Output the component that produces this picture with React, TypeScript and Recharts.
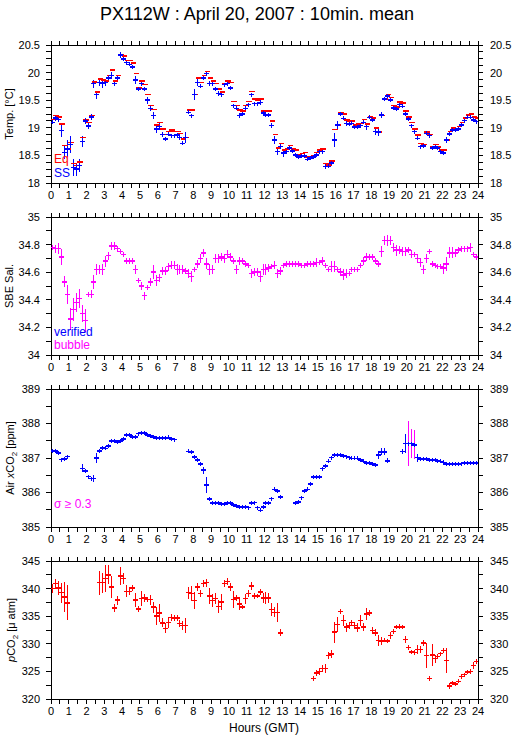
import React from "react";
import { ScatterChart, Scatter, XAxis, YAxis, ErrorBar } from "recharts";

// 10-minute means over one day
const SLOT_MINUTES = 10;
const HOURS = [0, 1, 2, 3, 4, 5, 6, 7, 8, 9, 10, 11, 12, 13, 14, 15, 16, 17, 18, 19, 20, 21, 22, 23, 24];

const TEMP_TICKS = [18, 18.5, 19, 19.5, 20, 20.5];
const SAL_TICKS = [34, 34.2, 34.4, 34.6, 34.8, 35];
const XCO2_TICKS = [385, 386, 387, 388, 389];
const PCO2_TICKS = [320, 325, 330, 335, 340, 345];

// Eq temperature (red)
const TEMP_EQ = [
  19.15, 19.22, 19.2, 19.07, 18.68, 18.62, 18.73, 18.35, 18.32, 18.38,
  18.82, 19.14, 19.1, 19.22, 19.83, 19.65, 19.88, 19.87, 19.85, 19.95,
  20.05, 19.85, 19.95, 20.32, 20.3, 20.22, 20.22, 20.17, 19.98, 19.72,
  19.85, 19.78, 19.6, 19.4, 19.33, 19.05, 19.1, 18.98, 18.88, 18.93,
  18.96, 18.93, 18.93, 18.9, 18.8, 18.82, 19.32, 19.32, 19.6, 19.9,
  19.82, 19.95, 20.02, 19.9, 19.85, 19.8, 19.7, 19.65, 19.8, 19.85,
  19.82, 19.48, 19.4, 19.32, 19.3, 19.4, 19.48, 19.66, 19.52, 19.5,
  19.52, 19.3, 19.3, 19.3, 19.12, 18.88, 18.63, 18.72, 18.6, 18.62,
  18.68, 18.62, 18.6, 18.52, 18.53, 18.55, 18.47, 18.48, 18.5, 18.55,
  18.6, 18.62, 18.35, 18.33, 18.4, 18.97, 19.05, 19.27, 19.25, 19.14,
  19.12, 19.12, 19.05, 19.07, 19.08, 19.15, 19.07, 19.2, 19.18, 19.0,
  18.92, 19.22, 19.52, 19.6, 19.55, 19.4, 19.38, 19.47, 19.45, 19.3,
  19.2, 19.1, 18.98, 18.87, 18.72, 18.7, 18.92, 18.88, 18.65, 18.7,
  18.65, 18.6, 18.6, 18.78, 18.93, 19.0, 18.98, 19.02, 19.1, 19.18,
  19.23, 19.25, 19.2, 19.18,
];

// SS temperature (blue)
const TEMP_SS = [
  19.1, 19.18, 19.15, 18.95, 18.55, 18.62, 18.7, 18.28, 18.25, 18.32,
  18.75, 19.12, 19.03, 19.2, 19.8, 19.6, 19.82, 19.8, 19.82, 19.9,
  19.95, 19.8, 19.9, 20.32, 20.25, 20.18, 20.15, 20.1, 19.87, 19.7,
  19.8, 19.7, 19.5, 19.35, 19.22, 18.98, 19.02, 18.88, 18.8, 18.88,
  18.86, 18.86, 18.87, 18.82, 18.72, 18.82, 19.28, 19.22, 19.6, 19.82,
  19.75, 19.9, 19.98, 19.8, 19.8, 19.7, 19.62, 19.6, 19.78, 19.8,
  19.72, 19.4, 19.35, 19.22, 19.25, 19.35, 19.42, 19.6, 19.44, 19.44,
  19.46, 19.27, 19.23, 19.23, 19.04, 18.78, 18.57, 18.66, 18.54, 18.57,
  18.63, 18.58, 18.51, 18.47, 18.49, 18.49, 18.43, 18.45, 18.47, 18.51,
  18.57, 18.57, 18.3, 18.3, 18.36, 18.78, 19.05, 19.25, 19.17, 19.08,
  19.07, 19.08, 19.01, 19.01, 19.04, 19.1, 19.02, 19.19, 19.14, 18.93,
  18.92, 19.23, 19.52, 19.58, 19.5, 19.36, 19.34, 19.42, 19.39, 19.25,
  19.16, 19.04, 18.93, 18.81, 18.66, 18.67, 18.9, 18.86, 18.63, 18.65,
  18.63, 18.57, 18.54, 18.78, 18.89, 18.96, 18.96, 18.98, 19.05, 19.13,
  19.19, 19.19, 19.14, 19.11,
];
const TEMP_SS_ERR = [
  0.04, 0.05, 0.05, 0.12, 0.12, 0.15, 0.15, 0.15, 0.12, 0.12,
  0.1, 0.06, 0.05, 0.05, 0.07, 0.07, 0.06, 0.08, 0.06, 0.06,
  0.06, 0.03, 0.04, 0.06, 0.04, 0.03, 0.03, 0.03, 0.07, 0.02,
  0.04, 0.03, 0.06, 0.04, 0.06, 0.08, 0.06, 0.04, 0.03, 0.03,
  0.03, 0.02, 0.02, 0.02, 0.03, 0.1, 0.03, 0.03, 0.1, 0.06,
  0.03, 0.03, 0.03, 0.04, 0.04, 0.03, 0.05, 0.05, 0.03, 0.03,
  0.03, 0.03, 0.02, 0.05, 0.03, 0.04, 0.02, 0.03, 0.02, 0.03,
  0.04, 0.04, 0.03, 0.03, 0.04, 0.07, 0.06, 0.05, 0.06, 0.04,
  0.02, 0.02, 0.03, 0.02, 0.02, 0.02, 0.02, 0.02, 0.02, 0.03,
  0.05, 0.05, 0.04, 0.03, 0.05, 0.12, 0.08, 0.02, 0.03, 0.04,
  0.03, 0.02, 0.03, 0.03, 0.05, 0.04, 0.06, 0.03, 0.03, 0.06,
  0.06, 0.06, 0.02, 0.03, 0.02, 0.03, 0.04, 0.03, 0.02, 0.03,
  0.02, 0.02, 0.03, 0.02, 0.03, 0.02, 0.03, 0.05, 0.03, 0.02,
  0.02, 0.02, 0.03, 0.06, 0.03, 0.02, 0.02, 0.02, 0.03, 0.02,
  0.03, 0.02, 0.02, 0.02,
];

// SBE salinity
const SAL = [
  34.78, 34.77, 34.77, 34.71, 34.53, 34.44, 34.26, 34.33, 34.38, 34.41,
  34.3, 34.25, 34.44, 34.44, 34.53, 34.62, 34.62, 34.62, 34.68, 34.72,
  34.79, 34.79, 34.77, 34.75, 34.73, 34.68, 34.68, 34.68, 34.62, 34.54,
  34.5, 34.43, 34.49, 34.53, 34.6, 34.54, 34.56, 34.61, 34.61, 34.64,
  34.65, 34.65, 34.62, 34.62, 34.62, 34.61, 34.59, 34.57, 34.62, 34.66,
  34.7, 34.74, 34.66, 34.62, 34.62, 34.7, 34.7, 34.71, 34.7, 34.73,
  34.71, 34.68, 34.62, 34.68, 34.68, 34.66, 34.65, 34.59, 34.6, 34.6,
  34.57, 34.62, 34.62, 34.63, 34.64, 34.65, 34.59, 34.61, 34.65, 34.66,
  34.66, 34.66, 34.66, 34.66, 34.65, 34.65, 34.66, 34.66, 34.66, 34.67,
  34.67, 34.68, 34.65, 34.62, 34.64, 34.64, 34.62, 34.6, 34.58, 34.59,
  34.59, 34.62, 34.62, 34.62, 34.65, 34.68, 34.71, 34.71, 34.71, 34.68,
  34.66, 34.75, 34.83, 34.83, 34.83, 34.78, 34.76, 34.76, 34.75, 34.75,
  34.76, 34.73, 34.73, 34.7, 34.67, 34.62, 34.7, 34.75, 34.66, 34.65,
  34.64, 34.64, 34.63, 34.66, 34.74, 34.74, 34.74, 34.76, 34.77, 34.77,
  34.77, 34.78, 34.73, 34.71,
];
const SAL_ERR = [
  0.02, 0.03, 0.04, 0.06, 0.04, 0.07, 0.08, 0.08, 0.07, 0.07,
  0.06, 0.08, 0.02, 0.03, 0.05, 0.04, 0.03, 0.04, 0.04, 0.03,
  0.03, 0.03, 0.02, 0.02, 0.02, 0.02, 0.02, 0.02, 0.03, 0.02,
  0.03, 0.03, 0.02, 0.03, 0.05, 0.04, 0.03, 0.03, 0.03, 0.03,
  0.03, 0.03, 0.04, 0.03, 0.03, 0.02, 0.03, 0.04, 0.02, 0.03,
  0.03, 0.03, 0.04, 0.04, 0.03, 0.03, 0.03, 0.03, 0.03, 0.03,
  0.03, 0.02, 0.03, 0.03, 0.02, 0.02, 0.02, 0.03, 0.03, 0.03,
  0.04, 0.04, 0.04, 0.03, 0.02, 0.03, 0.03, 0.03, 0.02, 0.02,
  0.02, 0.02, 0.02, 0.02, 0.02, 0.02, 0.02, 0.02, 0.02, 0.03,
  0.02, 0.03, 0.02, 0.02, 0.04, 0.04, 0.02, 0.03, 0.04, 0.03,
  0.02, 0.02, 0.02, 0.02, 0.02, 0.03, 0.03, 0.02, 0.02, 0.02,
  0.02, 0.04, 0.03, 0.04, 0.03, 0.03, 0.04, 0.03, 0.03, 0.03,
  0.02, 0.03, 0.02, 0.03, 0.03, 0.03, 0.03, 0.02, 0.02, 0.02,
  0.02, 0.02, 0.04, 0.05, 0.04, 0.04, 0.03, 0.02, 0.02, 0.02,
  0.02, 0.03, 0.02, 0.02,
];

// Air xCO2 (ppm)
const XCO2_AIR = [
  387.21, 387.21, 387.14, 386.95, 386.97, 387.04, null, null, null, null,
  386.7, 386.63, 386.46, 386.4, 386.41, 387.0, 387.21, 387.29, 387.28, 387.35,
  387.5, 387.5, 387.45, 387.5, 387.55, 387.67, 387.67, 387.61, 387.61, 387.71,
  387.73, 387.72, 387.66, 387.64, 387.61, 387.57, 387.58, 387.58, 387.58, 387.6,
  387.55, 387.53, null, null, null, null, 387.19, 387.17, 387.03, 386.94,
  386.82, 386.65, 386.22, 385.81, 385.69, 385.69, 385.69, 385.66, 385.66, 385.71,
  385.69, 385.64, 385.61, 385.58, 385.58, 385.58, 385.56, 385.69, 385.71, 385.56,
  385.48, 385.58, 385.69, 385.69, 385.82, 386.09, 386.05, 385.87, null, null,
  null, null, 385.69, 385.73, 385.85, 386.05, 386.09, 386.24, 386.45, 386.45,
  386.45, 386.69, 386.77, 386.9, 387.01, 387.08, 387.08, 387.08, 387.06, 387.04,
  387.01, 386.99, 386.99, 386.99, 386.94, 386.9, 386.85, 386.85, 386.82, 386.8,
  387.08, 387.18, 387.18, 386.92, null, null, null, null, 387.19, 387.42,
  387.42, 387.42, 387.38, 387.01, 386.97, 386.97, 386.97, 386.94, 386.94, 386.94,
  386.92, 386.9, 386.87, 386.82, 386.82, 386.82, 386.82, 386.82, 386.84, 386.85,
  386.85, 386.85, 386.85, 386.85,
];
const XCO2_AIR_ERR = [
  0.02, 0.02, 0.02, 0.03, 0.02, 0.02, 0, 0, 0, 0,
  0.12, 0.06, 0.02, 0.04, 0.1, 0.15, 0.05, 0.02, 0.02, 0.03,
  0.03, 0.02, 0.02, 0.02, 0.02, 0.02, 0.02, 0.02, 0.02, 0.02,
  0.02, 0.02, 0.03, 0.02, 0.02, 0.02, 0.02, 0.04, 0.02, 0.02,
  0.02, 0.02, 0, 0, 0, 0, 0.02, 0.02, 0.02, 0.04,
  0.05, 0.1, 0.22, 0.04, 0.02, 0.02, 0.02, 0.02, 0.02, 0.02,
  0.03, 0.02, 0.02, 0.02, 0.02, 0.02, 0.02, 0.04, 0.05, 0.02,
  0.02, 0.04, 0.02, 0.02, 0.03, 0.05, 0.03, 0.03, 0, 0,
  0, 0, 0.02, 0.03, 0.05, 0.03, 0.03, 0.06, 0.06, 0.03,
  0.02, 0.06, 0.05, 0.04, 0.03, 0.03, 0.03, 0.02, 0.02, 0.02,
  0.02, 0.02, 0.02, 0.02, 0.02, 0.02, 0.02, 0.02, 0.02, 0.02,
  0.12, 0.1, 0.1, 0.07, 0, 0, 0, 0, 0.07, 0.28,
  0.65, 0.43, 0.42, 0.12, 0.03, 0.02, 0.02, 0.02, 0.02, 0.02,
  0.02, 0.02, 0.08, 0.02, 0.02, 0.02, 0.02, 0.02, 0.02, 0.02,
  0.02, 0.02, 0.02, 0.02,
];
const SIGMA_FLAG = 0.3;

// pCO2 (uatm)
const PCO2 = [
  339.98, 340.88, 340.1, 339.25, 338.46, 337.43, null, null, null, null,
  null, null, null, null, null, null, 341.07, 341.07, 341.8, 342.5,
  340.3, 336.5, 337.9, 342.3, 341.8, 339.5, 339.5, 340.1, 337.9, 336.3,
  338.2, 338.3, 338.0, 338.0, 336.65, 335.0, 335.6, 333.8, 332.8, 333.9,
  334.8, 334.65, 334.65, 333.7, 333.3, 333.3, 339.25, 339.07, 337.86, 340.3,
  339.07, 340.88, 341.07, 338.64, 337.86, 338.2, 336.8, 337.55, 340.9, 341.3,
  340.3, 338.0, 338.3, 337.25, 336.65, 338.2, 339.07, 340.46, 338.64, 338.64,
  339.37, 338.3, 338.3, 338.3, 336.2, 335.7, 335.7, 332.0, null, null,
  null, null, null, null, null, null, null, null, 323.75, 324.7,
  324.96, 325.57, 325.57, 327.87, 328.17, 332.1, 333.5, 335.86, 334.2, 333.0,
  333.3, 333.9, 333.3, 332.9, 334.2, 333.0, 335.4, 335.6, 332.4, 332.0,
  330.6, 330.5, 330.6, 330.5, 331.5, 332.2, 333.0, 333.1, 333.0, 330.8,
  329.3, 328.5, 328.4, 329.0, 329.0, 330.1, 327.9, 323.7, 328.0, 327.3,
  327.7, 328.2, 328.8, 327.0, 322.4, 322.9, 322.7, 323.2, 324.1, 324.4,
  324.9, 325.0, 326.1, 326.8,
];
const PCO2_ERR = [
  0.8, 0.9, 1.2, 1.8, 2.7, 3.2, 0, 0, 0, 0,
  0, 0, 0, 0, 0, 0, 2.2, 1.8, 2.4, 1.7,
  2.0, 0.8, 0.8, 1.6, 1.0, 1.1, 0.7, 0.6, 1.3, 0.5,
  1.4, 0.8, 0.5, 0.9, 1.0, 1.6, 1.7, 0.8, 0.9, 1.0,
  0.6, 0.5, 0.6, 0.6, 0.8, 1.4, 1.1, 1.4, 1.5, 0.7,
  0.6, 0.6, 0.7, 1.4, 1.2, 1.0, 1.2, 1.4, 0.7, 0.6,
  0.8, 1.5, 0.6, 1.2, 0.4, 0.9, 0.6, 0.8, 0.6, 0.4,
  0.5, 0.9, 1.0, 0.9, 1.2, 0.9, 1.7, 0.6, 0, 0,
  0, 0, 0, 0, 0, 0, 0, 0, 0.4, 0.5,
  0.7, 0.6, 0.8, 0.6, 0.7, 1.9, 1.4, 0.5, 1.0, 0.8,
  0.6, 0.5, 0.7, 0.8, 1.0, 0.7, 1.0, 0.5, 0.7, 0.6,
  1.0, 0.7, 0.3, 0.3, 0.6, 0.5, 0.4, 0.4, 0.3, 0.6,
  0.4, 0.3, 0.4, 0.8, 0.6, 0.5, 2.3, 0.5, 2.0, 0.7,
  0.5, 0.3, 0.5, 2.3, 0.5, 0.4, 0.4, 0.3, 0.4, 0.4,
  0.4, 0.4, 0.6, 0.5,
];

const BLUE = "#0000ff";
const RED = "#ff0000";
const MAGENTA = "#ff00ff";
const FONT = "'Liberation Sans', Arial, Helvetica, sans-serif";

const WIDTH = 515;
const PLOT_H = 138;

type Pt = { t: number; v: number; e: number };

function toPoints(vals: (number | null)[], errs?: number[]): Pt[] {
  const out: Pt[] = [];
  vals.forEach((v, i) => {
    if (v == null) return;
    out.push({ t: ((i + 0.5) * SLOT_MINUTES) / 60, v, e: errs ? errs[i] : 0 });
  });
  return out;
}

// half-hour ticks, labels on whole hours
const X_TICKS = HOURS.flatMap((h) => (h < 24 ? [h, h + 0.5] : [h]));

function withMinor(majors: number[], steps: number) {
  const out: number[] = [];
  for (let i = 0; i < majors.length - 1; i++) {
    for (let j = 0; j < steps; j++) {
      out.push(majors[i] + ((majors[i + 1] - majors[i]) * j) / steps);
    }
  }
  out.push(majors[majors.length - 1]);
  return out;
}

const crossShape = (color: string) => (props: any) => {
  const { cx, cy } = props;
  if (cx == null || cy == null) return <g />;
  return (
    <g>
      <line x1={cx - 2.5} x2={cx + 2.5} y1={cy} y2={cy} stroke={color} strokeWidth={1.5} />
      <line x1={cx} x2={cx} y1={cy - 2} y2={cy + 2} stroke={color} strokeWidth={1} />
    </g>
  );
};

const dashShape = (color: string) => (props: any) => {
  const { cx, cy } = props;
  if (cx == null || cy == null) return <g />;
  return <line x1={cx - 2} x2={cx + 3.5} y1={cy} y2={cy} stroke={color} strokeWidth={1.5} />;
};

const xTick = (props: any) => {
  const { x, y, payload } = props;
  if (!Number.isInteger(payload.value)) return <g />;
  return (
    <text x={x} y={y} dy="0.71em" textAnchor="middle" fontSize={11} fontFamily={FONT} fill="#000">
      {payload.value}
    </text>
  );
};

const noTick = () => <g />;

const yTick = (majors: number[], anchor: "start" | "end") => (props: any) => {
  const { x, y, payload } = props;
  const major = majors.find((m) => Math.abs(m - payload.value) < 1e-6);
  if (major === undefined) return <g />;
  return (
    <text x={x} y={y} dy="0.355em" textAnchor={anchor} fontSize={11} fontFamily={FONT} fill="#000">
      {major}
    </text>
  );
};

function Panel({
  top,
  majors,
  minorSteps,
  children,
}: {
  top: number;
  majors: number[];
  minorSteps: number;
  children: React.ReactNode;
}) {
  const domain = [majors[0], majors[majors.length - 1]];
  const yTicks = withMinor(majors, minorSteps);
  return (
    <div style={{ position: "absolute", left: 0, top: top - 10 }}>
      <ScatterChart width={WIDTH} height={PLOT_H + 40} margin={{ top: 5, right: 0, bottom: 5, left: 0 }}>
        <XAxis
          xAxisId="b"
          type="number"
          dataKey="t"
          domain={[0, 24]}
          ticks={X_TICKS}
          interval={0}
          height={25}
          tickSize={5}
          tickMargin={3}
          tick={xTick}
          stroke="#000"
          allowDataOverflow
        />
        <XAxis
          xAxisId="t"
          orientation="top"
          type="number"
          dataKey="t"
          domain={[0, 24]}
          ticks={X_TICKS}
          interval={0}
          height={5}
          tickSize={4}
          tick={noTick}
          stroke="#000"
          allowDataOverflow
        />
        <YAxis
          yAxisId="l"
          type="number"
          dataKey="v"
          domain={domain}
          ticks={yTicks}
          interval={0}
          width={51}
          tickSize={5}
          tickMargin={6}
          tick={yTick(majors, "end")}
          stroke="#000"
          allowDataOverflow
        />
        <YAxis
          yAxisId="r"
          orientation="right"
          type="number"
          dataKey="v"
          domain={domain}
          ticks={yTicks}
          interval={0}
          width={37}
          tickSize={5}
          tickMargin={7}
          tick={yTick(majors, "start")}
          stroke="#000"
          allowDataOverflow
        />
        {children}
      </ScatterChart>
    </div>
  );
}

function ErrSeries({ data, color, barColor }: { data: Pt[]; color: string; barColor?: string }) {
  return (
    <Scatter
      xAxisId="b"
      yAxisId="l"
      data={data}
      shape={crossShape(color)}
      isAnimationActive={false}
    >
      <ErrorBar dataKey="e" direction="y" width={0} stroke={barColor || color} strokeWidth={1} isAnimationActive={false} />
    </Scatter>
  );
}

export default function App() {
  const eq = toPoints(TEMP_EQ);
  const ss = toPoints(TEMP_SS, TEMP_SS_ERR);
  const sal = toPoints(SAL, SAL_ERR);
  const air = toPoints(XCO2_AIR, XCO2_AIR_ERR);
  const airOk = air.filter((p) => p.e < SIGMA_FLAG);
  const airFlag = air.filter((p) => p.e >= SIGMA_FLAG);
  const pco2 = toPoints(PCO2, PCO2_ERR);

  const txt = { fontFamily: FONT, fill: "#000" } as const;

  return (
    <div style={{ position: "absolute", left: 0, top: 0, width: WIDTH, height: 739, background: "#fff", fontFamily: FONT }}>
      <style>{"svg line { shape-rendering: crispEdges; }"}</style>

      <Panel top={45} majors={TEMP_TICKS} minorSteps={4}>
        <Scatter xAxisId="b" yAxisId="l" data={eq} shape={dashShape(RED)} isAnimationActive={false} />
        {ErrSeries({ data: ss, color: BLUE })}
      </Panel>

      <Panel top={217} majors={SAL_TICKS} minorSteps={2}>
        {ErrSeries({ data: sal, color: MAGENTA })}
      </Panel>

      <Panel top={389} majors={XCO2_TICKS} minorSteps={2}>
        {ErrSeries({ data: airOk, color: BLUE })}
        {ErrSeries({ data: airFlag, color: BLUE, barColor: MAGENTA })}
      </Panel>

      <Panel top={561} majors={PCO2_TICKS} minorSteps={2}>
        {ErrSeries({ data: pco2, color: RED })}
      </Panel>

      <svg width={WIDTH} height={739} style={{ position: "absolute", left: 0, top: 0, pointerEvents: "none" }}>
        <text x={257} y={20} textAnchor="middle" fontSize={18} {...txt}>
          PX112W : April 20, 2007 : 10min. mean
        </text>

        <text transform="translate(13,114) rotate(-90)" textAnchor="middle" fontSize={11} {...txt}>
          Temp. [°C]
        </text>
        <text transform="translate(13,286) rotate(-90)" textAnchor="middle" fontSize={11} {...txt}>
          SBE Sal.
        </text>
        <text transform="translate(14,458) rotate(-90)" textAnchor="middle" fontSize={11} {...txt}>
          Air <tspan fontStyle="italic">x</tspan>CO<tspan fontSize={8} dy={3}>2</tspan>
          <tspan dy={-3}> [ppm]</tspan>
        </text>
        <text transform="translate(15,630) rotate(-90)" textAnchor="middle" fontSize={11} {...txt}>
          <tspan fontStyle="italic">p</tspan>CO<tspan fontSize={8} dy={3}>2</tspan>
          <tspan dy={-3}> [μ atm]</tspan>
        </text>

        <text x={54} y={163} fontSize={12} fontFamily={FONT} fill={RED}>Eq</text>
        <text x={54} y={177} fontSize={12} fontFamily={FONT} fill={BLUE}>SS</text>
        <text x={54} y={336} fontSize={12} fontFamily={FONT} fill={BLUE}>verified</text>
        <text x={54} y={349} fontSize={12} fontFamily={FONT} fill={MAGENTA}>bubble</text>
        <text x={54} y={508} fontSize={12} fontFamily={FONT} fill={MAGENTA}>σ ≥ 0.3</text>

        <text x={264} y={732} textAnchor="middle" fontSize={12} {...txt}>
          Hours (GMT)
        </text>
      </svg>
    </div>
  );
}
